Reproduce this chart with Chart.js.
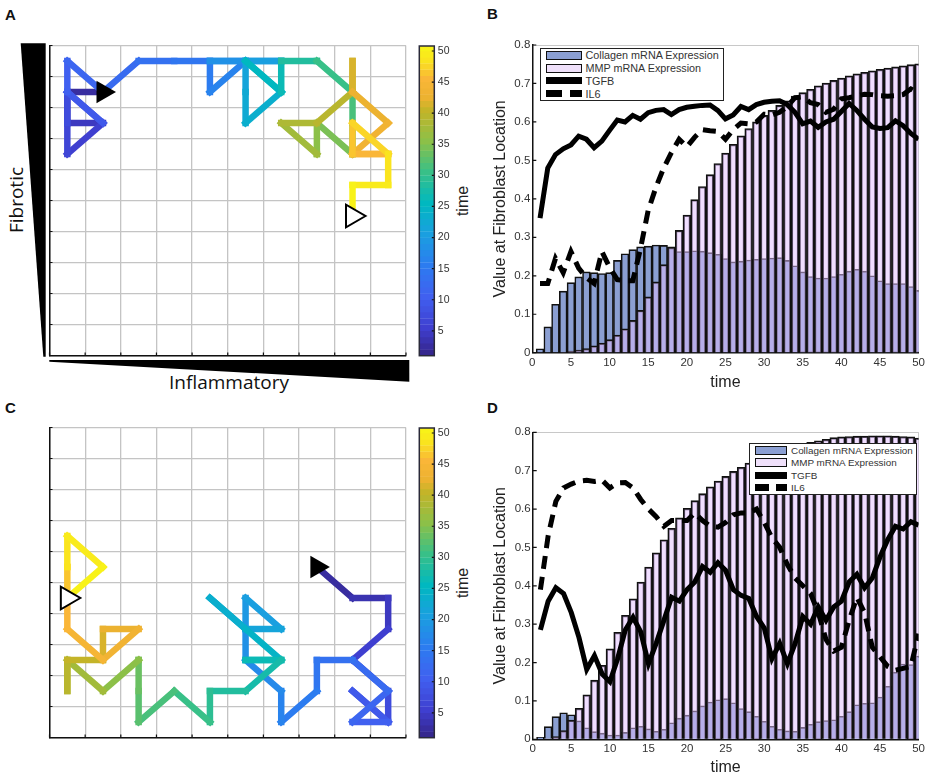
<!DOCTYPE html>
<html>
<head>
<meta charset="utf-8">
<title>Fibroblast paths</title>
<script src="https://cdn.jsdelivr.net/npm/chart.js@4"></script>
<style>
  html, body { margin: 0; padding: 0; background: #fff; }
  body { position: relative; width: 928px; height: 780px; overflow: hidden; font-family: "Liberation Sans", Arial, sans-serif; color: #222; }
  canvas { position: absolute; }
  .tag { position: absolute; font-weight: bold; font-size: 15px; line-height: 15px; color: #111; }
  .rot { position: absolute; transform: translate(-50%, -50%) rotate(-90deg); white-space: nowrap; }
  .big { font-family: "Open Sans", sans-serif; font-size: 19px; color: #111; }
  .bartitle { font-size: 16px; }
  svg { position: absolute; left: 0; top: 0; }
  .legend { position: absolute; box-sizing: border-box; background: #fff; border: 1.5px solid #222; display: flex; flex-direction: column; justify-content: space-around; }
  .row { display: flex; align-items: center; color: #333; white-space: nowrap; }
  .sw { flex: none; box-sizing: border-box; height: 9px; margin-right: 4px; }
</style>
</head>
<body>
<div class="tag" style="left:5px;top:7px">A</div>
<div class="tag" style="left:487px;top:6px">B</div>
<div class="tag" style="left:5px;top:400px">C</div>
<div class="tag" style="left:487px;top:400px">D</div>

<svg width="928" height="780">
  <polygon points="20.7,43.3 45.7,43.3 45.7,356.7 43.3,356.7" fill="#000"/>
  <polygon points="49.3,360 409.3,360 409.3,381.7 49.3,361.7" fill="#000"/>
</svg>
<div class="rot big" style="left:16px;top:200px">Fibrotic</div>
<div class="big" style="position:absolute;left:169px;top:368px;line-height:28px">Inflammatory</div>
<div class="rot bartitle" style="left:463px;top:201px">time</div>
<div class="rot bartitle" style="left:463px;top:583px">time</div>

<canvas id="pathA" width="375" height="330" style="left:40px;top:36px"></canvas>
<canvas id="barA" width="42" height="330" style="left:415px;top:36px"></canvas>
<canvas id="pathC" width="375" height="330" style="left:40px;top:418px"></canvas>
<canvas id="barC" width="42" height="330" style="left:415px;top:418px"></canvas>
<canvas id="chartB" width="458" height="360" style="left:470px;top:30px"></canvas>
<canvas id="chartD" width="458" height="360" style="left:470px;top:420px"></canvas>

<script>
// time steps
const times = Array.from({ length: 50 }, (_, i) => i + 1);
const barTicks = [5, 10, 15, 20, 25, 30, 35, 40, 45, 50];

// paths through the grid, one point per time step
const pathAX = [1.5, 0.5, 0.5, 1.5, 0.5, 0.5, 0.5, 1.5, 0.5, 0.5, 1.5, 2.5, 3.5, 4.5, 4.5, 5.5, 4.5, 5.5, 6.5, 5.5, 5.5, 5.5, 6.5, 5.5, 6.5, 6.5, 6.5, 7.5, 7.5, 8.5, 8.5, 8.5, 8.5, 7.5, 7.5, 7.5, 6.5, 7.5, 8.5, 8.5, 8.5, 9.5, 8.5, 9.5, 8.5, 8.5, 9.5, 9.5, 8.5, 8.5];
const pathAY = [8.5, 8.5, 7.5, 7.5, 6.5, 7.5, 8.5, 7.5, 8.5, 9.5, 8.5, 9.5, 9.5, 9.5, 8.5, 9.5, 9.5, 9.5, 9.5, 9.5, 8.5, 7.5, 8.5, 9.5, 8.5, 9.5, 9.5, 9.5, 9.5, 8.5, 7.5, 6.5, 6.5, 7.5, 6.5, 6.5, 7.5, 7.5, 8.5, 9.5, 8.5, 7.5, 6.5, 6.5, 6.5, 7.5, 6.5, 5.5, 5.5, 4.5];
const pathCX = [7.5, 8.5, 9.5, 9.5, 8.5, 9.5, 9.5, 8.5, 9.5, 8.5, 9.5, 8.5, 7.5, 7.5, 6.5, 6.5, 5.5, 5.5, 5.5, 6.5, 5.5, 4.5, 5.5, 6.5, 5.5, 6.5, 5.5, 4.5, 4.5, 3.5, 2.5, 2.5, 2.5, 2.5, 1.5, 1.5, 0.5, 0.5, 0.5, 1.5, 1.5, 2.5, 1.5, 0.5, 0.5, 0.5, 0.5, 0.5, 1.5, 0.5];
const pathCY = [5.5, 4.5, 4.5, 3.5, 2.5, 1.5, 0.5, 1.5, 0.5, 0.5, 1.5, 2.5, 2.5, 1.5, 0.5, 1.5, 2.5, 3.5, 4.5, 3.5, 3.5, 4.5, 3.5, 2.5, 2.5, 2.5, 1.5, 1.5, 0.5, 1.5, 0.5, 1.5, 2.5, 2.5, 1.5, 1.5, 2.5, 1.5, 2.5, 2.5, 3.5, 3.5, 2.5, 3.5, 4.5, 5.5, 5.5, 6.5, 5.5, 4.5];

// panel B series
const collagenB = [0.01, 0.067, 0.126, 0.16, 0.182, 0.197, 0.21, 0.208, 0.206, 0.208, 0.24, 0.257, 0.268, 0.275, 0.277, 0.28, 0.279, 0.275, 0.263, 0.263, 0.265, 0.264, 0.26, 0.256, 0.245, 0.236, 0.238, 0.241, 0.243, 0.245, 0.246, 0.247, 0.24, 0.226, 0.21, 0.198, 0.194, 0.194, 0.198, 0.204, 0.212, 0.217, 0.212, 0.2, 0.187, 0.18, 0.18, 0.18, 0.172, 0.162];
const mmpB = [0, 0, 0, 0.001, 0.004, 0.007, 0.011, 0.018, 0.025, 0.034, 0.046, 0.062, 0.084, 0.11, 0.145, 0.184, 0.229, 0.274, 0.318, 0.358, 0.398, 0.432, 0.463, 0.492, 0.519, 0.542, 0.564, 0.583, 0.6, 0.617, 0.63, 0.643, 0.655, 0.667, 0.676, 0.685, 0.694, 0.701, 0.708, 0.714, 0.72, 0.725, 0.729, 0.733, 0.737, 0.74, 0.743, 0.746, 0.749, 0.751];
const tgfbB = [0.35, 0.48, 0.515, 0.53, 0.54, 0.563, 0.555, 0.533, 0.55, 0.578, 0.605, 0.6, 0.617, 0.607, 0.624, 0.63, 0.632, 0.619, 0.632, 0.638, 0.641, 0.643, 0.644, 0.63, 0.608, 0.618, 0.64, 0.632, 0.645, 0.651, 0.654, 0.655, 0.645, 0.625, 0.595, 0.602, 0.586, 0.6, 0.607, 0.627, 0.648, 0.63, 0.607, 0.587, 0.583, 0.585, 0.603, 0.59, 0.57, 0.555];
const il6B = [0.18, 0.18, 0.245, 0.208, 0.263, 0.22, 0.195, 0.18, 0.263, 0.222, 0.19, 0.187, 0.187, 0.27, 0.37, 0.43, 0.48, 0.52, 0.555, 0.535, 0.56, 0.58, 0.577, 0.575, 0.555, 0.58, 0.597, 0.595, 0.6, 0.62, 0.618, 0.625, 0.64, 0.663, 0.665, 0.65, 0.645, 0.625, 0.633, 0.66, 0.663, 0.668, 0.672, 0.671, 0.668, 0.667, 0.668, 0.671, 0.686, 0.675];

// panel D series
const collagenD = [0.005, 0.033, 0.059, 0.069, 0.064, 0.048, 0.03, 0.02, 0.016, 0.011, 0.011, 0.018, 0.03, 0.034, 0.027, 0.021, 0.026, 0.043, 0.055, 0.063, 0.074, 0.087, 0.097, 0.103, 0.106, 0.095, 0.08, 0.072, 0.06, 0.047, 0.034, 0.026, 0.022, 0.021, 0.031, 0.039, 0.046, 0.049, 0.051, 0.06, 0.072, 0.09, 0.094, 0.095, 0.11, 0.138, 0.175, 0.196, 0.195, 0.217];
const mmpD = [0, 0.001, 0.007, 0.023, 0.05, 0.081, 0.116, 0.154, 0.193, 0.236, 0.279, 0.323, 0.366, 0.41, 0.449, 0.486, 0.52, 0.55, 0.577, 0.602, 0.622, 0.64, 0.658, 0.673, 0.685, 0.698, 0.709, 0.72, 0.73, 0.738, 0.746, 0.752, 0.758, 0.764, 0.769, 0.774, 0.778, 0.782, 0.786, 0.788, 0.789, 0.79, 0.79, 0.791, 0.791, 0.791, 0.79, 0.789, 0.788, 0.785];
const tgfbD = [0.285, 0.36, 0.395, 0.38, 0.33, 0.265, 0.182, 0.218, 0.17, 0.15, 0.21, 0.285, 0.318, 0.28, 0.197, 0.25, 0.31, 0.37, 0.36, 0.39, 0.41, 0.45, 0.435, 0.46, 0.44, 0.39, 0.375, 0.367, 0.32, 0.29, 0.21, 0.25, 0.197, 0.25, 0.32, 0.3, 0.345, 0.31, 0.345, 0.36, 0.41, 0.43, 0.395, 0.42, 0.475, 0.52, 0.555, 0.548, 0.567, 0.558];
const il6D = [0.39, 0.53, 0.62, 0.655, 0.665, 0.673, 0.675, 0.672, 0.675, 0.655, 0.668, 0.669, 0.655, 0.625, 0.6, 0.58, 0.555, 0.57, 0.57, 0.57, 0.59, 0.57, 0.555, 0.553, 0.565, 0.585, 0.59, 0.59, 0.6, 0.565, 0.525, 0.5, 0.455, 0.42, 0.4, 0.38, 0.33, 0.26, 0.23, 0.24, 0.31, 0.37, 0.33, 0.24, 0.215, 0.19, 0.18, 0.185, 0.19, 0.275];

// colorbar
const cmapT = [1, 5, 10, 15, 20, 25, 30, 35, 40, 42, 45, 48, 50, 51];
const cmapRGB = [[53, 39, 143], [63, 63, 208], [64, 96, 240], [44, 124, 240], [26, 159, 224], [0, 184, 192], [56, 192, 136], [140, 192, 72], [196, 180, 40], [236, 178, 48], [250, 182, 56], [250, 228, 30], [248, 242, 24], [250, 250, 20]];

function timeColor(t) {
  let i = 0;
  while (i < cmapT.length - 2 && t > cmapT[i + 1]) i++;
  const f = (t - cmapT[i]) / (cmapT[i + 1] - cmapT[i]);
  const c = cmapRGB[i].map((v, k) => Math.round(v + (cmapRGB[i + 1][k] - v) * f));
  return `rgb(${c[0]},${c[1]},${c[2]})`;
}

// short ticks pointing into the plot
const inwardTicks = {
  id: 'inwardTicks',
  afterDatasetsDraw(chart, args, opts) {
    const { ctx, chartArea: a } = chart;
    const len = opts.length || 3;
    ctx.save();
    ctx.strokeStyle = '#111';
    ctx.lineWidth = 1.2;
    ctx.beginPath();
    if (opts.x) chart.scales.x.ticks.forEach(t => {
      const px = chart.scales.x.getPixelForValue(t.value);
      ctx.moveTo(px, a.bottom);
      ctx.lineTo(px, a.bottom - len);
    });
    if (opts.left) chart.scales.y.ticks.forEach(t => {
      const py = chart.scales.y.getPixelForValue(t.value);
      ctx.moveTo(a.left, py);
      ctx.lineTo(a.left + len, py);
    });
    if (opts.right) chart.scales.y.ticks.forEach(t => {
      const py = chart.scales.y.getPixelForValue(t.value);
      ctx.moveTo(a.right, py);
      ctx.lineTo(a.right - len, py);
    });
    ctx.stroke();
    if (opts.frame) {
      ctx.strokeStyle = '#2a2a3a';
      ctx.lineWidth = 1.5;
      ctx.strokeRect(a.left, a.top, a.right - a.left, a.bottom - a.top);
    }
    ctx.restore();
  }
};
Chart.register(inwardTicks);
Chart.defaults.font.family = '"Liberation Sans", Arial, sans-serif';
Chart.defaults.color = '#333';

function drawPath(id, xs, ys) {
  const pts = xs.map((x, i) => ({ x: x, y: ys[i] }));
  const last = pts.length - 1;
  // one dataset per step so every step gets its own colour, later steps on top
  const steps = pts.slice(1).map((p, i) => ({
    data: [pts[i], p],
    borderColor: timeColor(i + 2),
    borderWidth: 6.5,
    borderCapStyle: 'square',
    pointRadius: 0,
    tension: 0,
    order: 100 - i
  }));
  new Chart(document.getElementById(id), {
    type: 'line',
    data: {
      datasets: [
        ...steps,
        { data: [pts[0]], showLine: false, pointStyle: 'triangle', pointRotation: 90, pointRadius: 13, pointBorderWidth: 0, pointBackgroundColor: '#000', order: 0 },
        { data: [pts[last]], showLine: false, pointStyle: 'triangle', pointRotation: 90, pointRadius: 13, pointBorderWidth: 2, pointBackgroundColor: '#fff', pointBorderColor: '#000', order: 0 }
      ]
    },
    options: {
      responsive: false,
      animation: false,
      layout: { autoPadding: false, padding: { left: 9.5, top: 9.5, right: 9, bottom: 10.5 } },
      plugins: { legend: { display: false }, tooltip: { enabled: false }, inwardTicks: { x: true, left: true } },
      scales: {
        x: { type: 'linear', min: 0, max: 10, ticks: { display: false, stepSize: 1 }, grid: { color: '#c4c4c4', lineWidth: 1.3, drawTicks: false }, border: { color: '#111', width: 1.5 } },
        y: { type: 'linear', min: 0, max: 10, ticks: { display: false, stepSize: 1 }, grid: { color: '#c4c4c4', lineWidth: 1.3, drawTicks: false }, border: { color: '#111', width: 1.5 } }
      }
    }
  });
}

function drawColorbar(id) {
  new Chart(document.getElementById(id), {
    type: 'bar',
    data: {
      datasets: [{
        data: times.map(t => ({ x: [0, 1], y: t + 0.5 })),
        backgroundColor: times.map(t => timeColor(t)),
        borderWidth: 0,
        barPercentage: 1.06,
        categoryPercentage: 1
      }]
    },
    options: {
      responsive: false,
      animation: false,
      indexAxis: 'y',
      layout: { autoPadding: false, padding: { left: 4.3, top: 10, bottom: 10.3, right: 0 } },
      plugins: { legend: { display: false }, tooltip: { enabled: false }, inwardTicks: { right: true, frame: true, length: 2.5 } },
      scales: {
        x: { type: 'linear', min: 0, max: 1, display: false },
        y: {
          type: 'linear',
          position: 'right',
          offset: false,
          min: 1,
          max: 50.8,
          afterBuildTicks: s => { s.ticks = barTicks.map(v => ({ value: v })); },
          afterFit: s => { s.width = 22.7; },
          ticks: { padding: 3.5, font: { size: 10.5 }, autoSkip: false, color: '#333' },
          grid: { display: false, drawTicks: false, offset: false },
          border: { display: false }
        }
      }
    }
  });
}

function drawBars(id, collagen, mmp, tgfb, il6, box) {
  const xy = arr => times.map((t, i) => ({ x: t, y: arr[i] }));
  const edge = max => c => c.tick && c.tick.value === max ? '#c8c8c8' : 'transparent';
  new Chart(document.getElementById(id), {
    type: 'bar',
    data: {
      datasets: [
        { label: 'Collagen mRNA Expression', data: xy(collagen), backgroundColor: '#8b9fd2', borderColor: '#111', borderWidth: 1.6, order: 3, barPercentage: 1, categoryPercentage: 1 },
        { label: 'MMP mRNA Expression', data: xy(mmp), backgroundColor: 'rgba(225,190,255,0.5)', borderColor: '#111', borderWidth: 1.6, order: 2, barPercentage: 1, categoryPercentage: 1 },
        { type: 'line', label: 'TGFB', data: xy(tgfb), borderColor: '#000', borderWidth: 5, pointRadius: 0, tension: 0, order: 1 },
        { type: 'line', label: 'IL6', data: xy(il6), borderColor: '#000', borderWidth: 5, borderDash: [13, 8], pointRadius: 0, tension: 0, order: 0 }
      ]
    },
    options: {
      responsive: false,
      animation: false,
      layout: { autoPadding: false, padding: { left: 0, top: box.top, right: box.right, bottom: 0 } },
      plugins: { legend: { display: false }, tooltip: { enabled: false }, inwardTicks: { left: true, length: 4 } },
      scales: {
        x: {
          type: 'linear',
          stacked: true,
          offset: false,
          min: 0,
          max: 50,
          afterFit: s => { s.height = box.bottom; },
          ticks: { stepSize: 5, font: { size: 11.5 }, padding: 3, maxRotation: 0 },
          grid: { color: edge(50), drawTicks: false, offset: false },
          border: { color: '#111', width: 1.5 },
          title: { display: true, text: 'time', font: { size: 16 }, color: '#222', padding: { top: 0, bottom: box.titleGap } }
        },
        y: {
          type: 'linear',
          stacked: false,
          min: 0,
          max: 0.8,
          afterFit: s => { s.width = box.left; },
          ticks: { stepSize: 0.1, font: { size: 11.5 }, padding: 2, callback: v => v === 0 ? '0' : v.toFixed(1) },
          grid: { color: edge(0.8), drawTicks: false },
          border: { color: '#111', width: 1.5 },
          title: { display: true, text: 'Value at Fibroblast Location', font: { size: 16 }, color: '#222', padding: { top: 21, bottom: 0 } }
        }
      }
    }
  });
}

// legend sits on top of the plot, labels taken from the chart
function addLegend(chartId, pos) {
  const sets = Chart.getChart(chartId).data.datasets;
  const el = document.createElement('div');
  el.className = 'legend';
  el.style.cssText = `left:${pos.left}px;top:${pos.top}px;width:${pos.width}px;height:${pos.height}px;padding:0 0 0 ${pos.pad}px;font-size:${pos.font}px`;
  sets.forEach((d, i) => {
    const row = document.createElement('div');
    row.className = 'row';
    const sw = document.createElement('div');
    sw.className = 'sw';
    sw.style.width = pos.swatch + 'px';
    if (i < 2) {
      sw.style.border = '1px solid #111';
      sw.style.background = i === 0 ? '#8b9fd2' : '#efe0fa';
    } else if (i === 2) {
      sw.style.height = '7px';
      sw.style.background = '#000';
    } else {
      sw.style.height = '7px';
      const a = Math.round(pos.swatch * 0.44), b = Math.round(pos.swatch * 0.67);
      sw.style.background = `linear-gradient(90deg,#000 ${a}px,transparent ${a}px,transparent ${b}px,#000 ${b}px)`;
    }
    row.appendChild(sw);
    row.appendChild(document.createTextNode(d.label));
    el.appendChild(row);
  });
  document.body.appendChild(el);
}

drawPath('pathA', pathAX, pathAY);
drawPath('pathC', pathCX, pathCY);
drawColorbar('barA');
drawColorbar('barC');
drawBars('chartB', collagenB, mmpB, tgfbB, il6B, { left: 62.3, top: 15, right: 8, bottom: 37.3, titleGap: -2 });
drawBars('chartD', collagenD, mmpD, tgfbD, il6D, { left: 62.7, top: 12.3, right: 6.3, bottom: 40.7, titleGap: 3 });
addLegend('chartB', { left: 539.5, top: 47.7, width: 184.5, height: 53.5, pad: 5, font: 10.8, swatch: 36 });
addLegend('chartD', { left: 749, top: 443, width: 168, height: 52, pad: 5, font: 9.9, swatch: 32 });
</script>
</body>
</html>
